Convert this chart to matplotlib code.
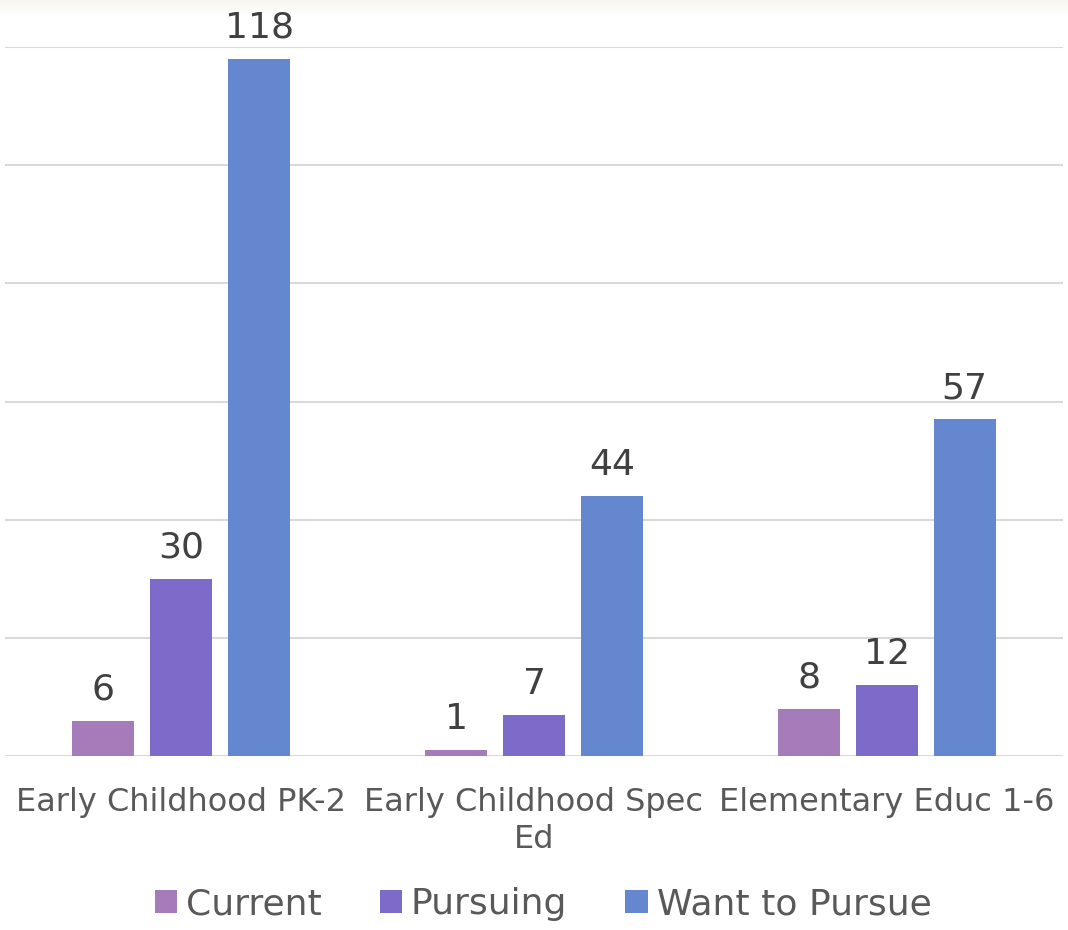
import numpy as np
import matplotlib
matplotlib.use("Agg")
import matplotlib.pyplot as plt

categories = ["Early Childhood PK-2", "Early Childhood Spec\nEd", "Elementary Educ 1-6"]
series_names = ["Current", "Pursuing", "Want to Pursue"]
current = [6, 1, 8]
pursuing = [30, 7, 12]
want_to_pursue = [118, 44, 57]
colors = ["#A57BBA", "#7E6AC8", "#6587CF"]

plt.rcParams["font.family"] = ["DejaVu Sans"]

fig = plt.figure(figsize=(10.68, 9.30), dpi=100)

# faint warm band along the top edge
band = fig.add_axes([0, 1 - 16 / 930, 1, 16 / 930])
grad = np.linspace(0, 1, 50).reshape(-1, 1)
top_rgb = np.array([249, 246, 238]) / 255.0
img = top_rgb[None, None, :] * (1 - grad[:, :, None]) + np.ones(3)[None, None, :] * grad[:, :, None]
band.imshow(img, aspect="auto", extent=[0, 1, 0, 1])
band.axis("off")

ax = fig.add_axes([5 / 1068, 1 - 756 / 930, 1058 / 1068, (756 - 47) / 930])
x = np.arange(len(categories))
width = 0.176
step = 0.221
series = [current, pursuing, want_to_pursue]
for i, (vals, name, c) in enumerate(zip(series, series_names, colors)):
    bars = ax.bar(x + (i - 1) * step, vals, width, color=c, label=name, zorder=3)
    for b, v in zip(bars, vals):
        ax.annotate(str(v), (b.get_x() + b.get_width() / 2, v),
                    xytext=(0, 10), textcoords="offset points",
                    ha="center", va="bottom", fontsize=26, color="#404040")

ax.set_xlim(-0.5, 2.5)
ax.set_ylim(0, 120)
ax.set_yticks(np.arange(0, 121, 20))
ax.yaxis.grid(True, color="#D9D9D9", linewidth=1.5, zorder=0)
ax.tick_params(axis="y", left=False, labelleft=False)
ax.tick_params(axis="x", bottom=False, pad=19, labelsize=23, labelcolor="#595959")
ax.set_xticks(x)
ax.set_xticklabels(categories, linespacing=1.25)
for s in ax.spines.values():
    s.set_visible(False)

handles, labels = ax.get_legend_handles_labels()
fig.legend(handles, labels, loc="center", bbox_to_anchor=(0.5084, 1 - 904 / 930), ncol=3,
           frameon=False, fontsize=26, labelcolor="#595959", handlelength=0.62,
           handleheight=0.62, handletextpad=0.25, columnspacing=1.6)

fig.savefig("out.png", dpi=100, facecolor="white")
